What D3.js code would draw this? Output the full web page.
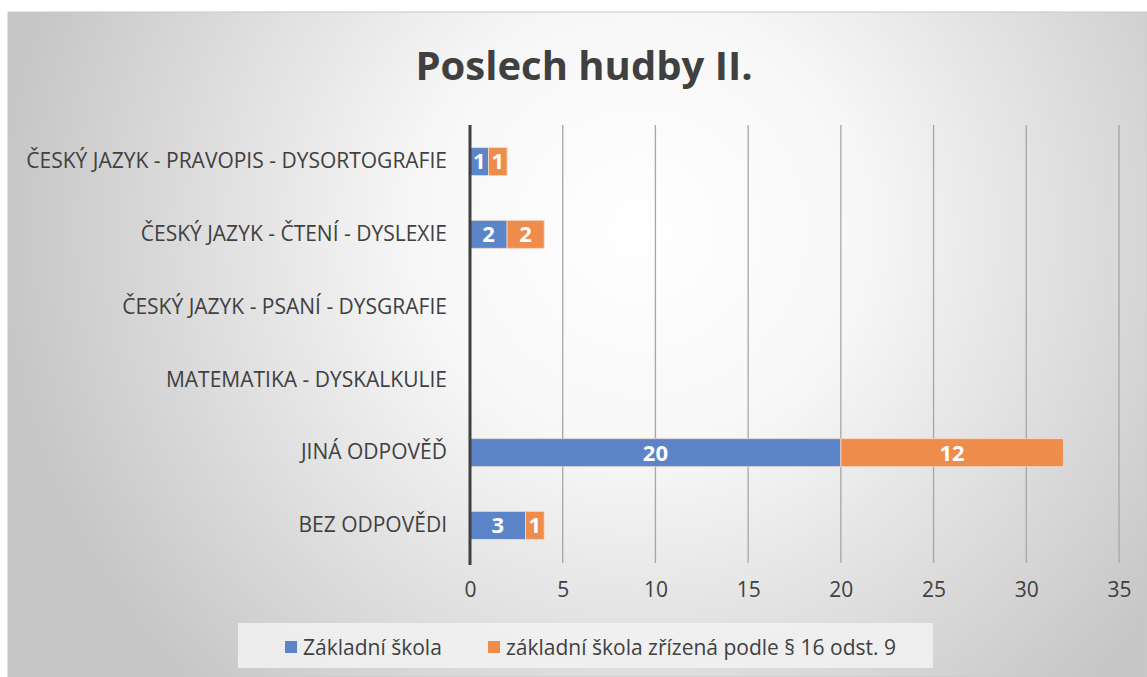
<!DOCTYPE html>
<html>
<head>
<meta charset="utf-8">
<script src="https://cdn.jsdelivr.net/npm/d3@7"></script>
<style>
  body { margin: 0; background: #fff; }
  svg { display: block; font-family: "Open Sans", "Noto Sans", sans-serif; }
</style>
</head>
<body>
<div id="chart"></div>
<script>
// Data
const categories = [
    'ČESKÝ JAZYK - PRAVOPIS - DYSORTOGRAFIE',
    'ČESKÝ JAZYK - ČTENÍ - DYSLEXIE',
    'ČESKÝ JAZYK - PSANÍ - DYSGRAFIE',
    'MATEMATIKA - DYSKALKULIE',
    'JINÁ ODPOVĚĎ',
    'BEZ ODPOVĚDI'
];
const seriesNames = ['Základní škola', 'základní škola zřízená podle § 16 odst. 9'];
const zakladni = [1, 2, 0, 0, 20, 3];
const zrizena = [1, 2, 0, 0, 12, 1];
const xTicks = [0, 5, 10, 15, 20, 25, 30, 35];
const colors = ['#5b84c9', '#ee8c4c'];

const width = 1147, height = 677;
const svg = d3.select('#chart').append('svg')
    .attr('width', width)
    .attr('height', height);

// Background with radial gradient
const defs = svg.append('defs');
const grad = defs.append('radialGradient')
    .attr('id', 'bg')
    .attr('gradientUnits', 'userSpaceOnUse')
    .attr('cx', 640).attr('cy', 230).attr('r', 640);
grad.append('stop').attr('offset', '0%').attr('stop-color', '#ffffff');
grad.append('stop').attr('offset', '35%').attr('stop-color', '#f7f7f7');
grad.append('stop').attr('offset', '100%').attr('stop-color', '#c6c6c6');

svg.append('rect')
    .attr('x', 8).attr('y', 12)
    .attr('width', width - 8).attr('height', height - 12)
    .attr('fill', 'url(#bg)')
    .attr('stroke', '#c8c8c8')
    .attr('stroke-width', 1);

// Title
svg.append('text')
    .attr('x', 584).attr('y', 80)
    .attr('text-anchor', 'middle')
    .attr('font-size', 40)
    .attr('font-weight', 'bold')
    .attr('fill', '#404040')
    .text('Poslech hudby II.');

// Scales
const x = d3.scaleLinear().domain([0, 35]).range([470, 1119]);
const y = d3.scaleBand().domain(categories).range([125, 562]).paddingInner(0.615).paddingOuter(0.31);

// Gridlines
svg.append('g')
    .selectAll('line')
    .data(xTicks.slice(1))
    .join('line')
    .attr('x1', d => x(d)).attr('x2', d => x(d))
    .attr('y1', 125).attr('y2', 563)
    .attr('stroke', '#a6a6a6')
    .attr('stroke-width', 1.3);

// X axis labels
const xAxis = svg.append('g')
    .attr('transform', 'translate(0,582)')
    .call(d3.axisBottom(x).tickValues(xTicks).tickSize(0).tickPadding(0));
xAxis.select('.domain').remove();
xAxis.selectAll('text')
    .attr('font-family', '"Open Sans", "Noto Sans", sans-serif')
    .attr('font-size', 21)
    .attr('fill', '#404040')
    .attr('dy', '0.7em');

// Y axis labels
const yAxis = svg.append('g')
    .attr('transform', 'translate(447,0)')
    .call(d3.axisLeft(y).tickSize(0).tickPadding(0));
yAxis.select('.domain').remove();
yAxis.selectAll('text')
    .attr('font-family', '"Open Sans", "Noto Sans", sans-serif')
    .attr('font-size', 21)
    .attr('fill', '#404040');

// Stacked bars
const rows = categories.map((c, i) => ({ cat: c, a: zakladni[i], b: zrizena[i] }));
const stack = d3.stack().keys(['a', 'b'])(rows);

stack.forEach((layer, si) => {
    const g = svg.append('g');
    const segs = layer.filter(d => d[1] - d[0] > 0);
    g.selectAll('rect')
        .data(segs)
        .join('rect')
        .attr('x', d => x(d[0]))
        .attr('y', d => y(d.data.cat))
        .attr('width', d => x(d[1]) - x(d[0]))
        .attr('height', y.bandwidth())
        .attr('fill', colors[si])
        .attr('stroke', '#f4dccb')
        .attr('stroke-opacity', 0.8)
        .attr('stroke-width', 1);
    g.selectAll('text')
        .data(segs)
        .join('text')
        .attr('x', d => (x(d[0]) + x(d[1])) / 2)
        .attr('y', d => y(d.data.cat) + y.bandwidth() / 2)
        .attr('dy', '0.36em')
        .attr('text-anchor', 'middle')
        .attr('font-size', 22)
        .attr('font-weight', 'bold')
        .attr('fill', '#ffffff')
        .text(d => d[1] - d[0]);
});

// Zero axis line
svg.append('line')
    .attr('x1', x(0)).attr('x2', x(0))
    .attr('y1', 125).attr('y2', 565)
    .attr('stroke', '#404040')
    .attr('stroke-width', 3);

// Legend
svg.append('rect')
    .attr('x', 238).attr('y', 623)
    .attr('width', 695).attr('height', 45)
    .attr('fill', '#f2f2f2')
    .attr('fill-opacity', 0.85);

const legendItems = [
    { name: seriesNames[0], color: colors[0], x: 285 },
    { name: seriesNames[1], color: colors[1], x: 488 }
];
const leg = svg.append('g').selectAll('g')
    .data(legendItems)
    .join('g')
    .attr('transform', d => `translate(${d.x},641)`);
leg.append('rect')
    .attr('width', 12).attr('height', 12)
    .attr('fill', d => d.color);
leg.append('text')
    .attr('x', 18).attr('y', 6)
    .attr('dy', '0.36em')
    .attr('font-size', 21)
    .attr('fill', '#404040')
    .text(d => d.name);
</script>
</body>
</html>
